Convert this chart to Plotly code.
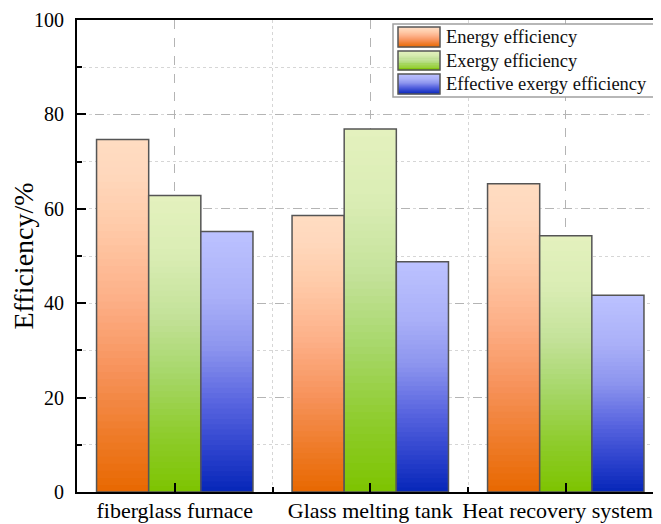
import plotly.graph_objects as go

categories = ["fiberglass furnace", "Glass melting tank", "Heat recovery system"]
series_names = ["Energy efficiency", "Exergy efficiency", "Effective exergy efficiency"]
energy = [74.7, 58.6, 65.3]
exergy = [62.8, 76.9, 54.3]
effective = [55.2, 48.8, 41.7]
y_ticks = [0, 20, 40, 60, 80, 100]

values = [energy, exergy, effective]

# gradient stops (0 = bottom of bar, 1 = top)
gradients = [
    [(0.0, (232, 104, 0)), (0.15, (238, 122, 38)), (0.35, (247, 147, 92)), (0.55, (253, 176, 136)),
     (0.75, (255, 202, 168)), (0.9, (255, 216, 188)), (1.0, (255, 220, 194))],
    [(0.0, (125, 196, 0)), (0.2, (143, 204, 46)), (0.4, (167, 215, 106)), (0.6, (196, 226, 154)),
     (0.8, (218, 237, 180)), (1.0, (228, 241, 190))],
    [(0.0, (6, 38, 184)), (0.15, (42, 64, 204)), (0.35, (90, 102, 224)), (0.55, (140, 148, 238)),
     (0.75, (170, 176, 248)), (1.0, (188, 194, 255))],
]


def grad_color(stops, t):
    for (t0, c0), (t1, c1) in zip(stops[:-1], stops[1:]):
        if t <= t1:
            f = (t - t0) / (t1 - t0) if t1 > t0 else 0
            c = [round(a + (b - a) * f) for a, b in zip(c0, c1)]
            return "rgb(%d,%d,%d)" % tuple(c)
    return "rgb(%d,%d,%d)" % stops[-1][1]


N = 50
bar_w = 0.2667
offsets = [-0.4, -0.4 + bar_w, -0.4 + 2 * bar_w]
xpos = list(range(len(categories)))
# last label is nudged left (as in the original) so it stays inside the frame
tick_text = categories[:-1] + [categories[-1] + "\u00a0\u00a0\u00a0"]

fig = go.Figure()
for s, vals in enumerate(values):
    for k in range(N - 1, -1, -1):
        frac = (k + 1) / N
        fig.add_trace(go.Bar(
            x=xpos, y=[v * frac for v in vals], width=bar_w, offset=offsets[s],
            marker=dict(color=grad_color(gradients[s], (k + 0.5) / N), line=dict(width=0)),
            showlegend=False, hoverinfo="skip"))
    fig.add_trace(go.Bar(
        x=xpos, y=vals, width=bar_w, offset=offsets[s], name=series_names[s],
        marker=dict(color="rgba(0,0,0,0)", line=dict(color="#555555", width=1.5)),
        showlegend=False))

# page body has an 8px margin; target pixel coords are in screen space
OFF = 8
W, H = 661 - OFF, 524 - OFF
L, R, T, B = 77, 661, 20, 492   # plot area in screen pixels
def px(x):
    return (x - L) / (R - L)
def py(y):
    return (B - y) / (B - T)

shapes = [dict(type="rect", xref="paper", yref="paper", x0=px(393), x1=px(655), y0=py(97), y1=py(24),
               line=dict(color="#a0a0a0", width=1.5), fillcolor="white", layer="above")]
annotations = []
rows = [(27, 47), (51, 70), (74, 94)]
STRIPS = 20
for s, (y0, y1) in enumerate(rows):
    h = (y1 - y0) / STRIPS
    for i in range(STRIPS):
        t = 1 - (i + 0.5) / STRIPS
        shapes.append(dict(type="rect", xref="paper", yref="paper", x0=px(398), x1=px(440),
                           y0=py(y0 + (i + 1) * h + 0.3), y1=py(y0 + i * h),
                           line=dict(width=0), fillcolor=grad_color(gradients[s], t), layer="above"))
    shapes.append(dict(type="rect", xref="paper", yref="paper", x0=px(398), x1=px(440),
                       y0=py(y1), y1=py(y0), line=dict(color="#555555", width=1.5), layer="above"))
    annotations.append(dict(xref="paper", yref="paper", x=px(444), y=py((y0 + y1) / 2),
                            text=series_names[s], showarrow=False, xanchor="left", yanchor="middle",
                            font=dict(family="Liberation Serif", size=18.5, color="#111111")))

fig.update_layout(
    width=W, height=H,
    margin=dict(l=L - OFF, r=661 - R, t=T - OFF, b=524 - B, autoexpand=False),
    barmode="overlay",
    plot_bgcolor="white", paper_bgcolor="white",
    font=dict(family="Liberation Serif", color="black"),
    shapes=shapes, annotations=annotations,
    showlegend=False,
)
fig.update_xaxes(
    range=[-0.5, (R - L) / 195.5 - 0.5], tickmode="array", tickvals=xpos, ticktext=tick_text,
    tickfont=dict(size=22, family="Liberation Serif"), ticklabeloverflow="allow",
    ticks="inside", ticklen=9, tickwidth=2, tickcolor="black",
    showline=True, linecolor="black", linewidth=2, mirror=True,
    showgrid=True, gridcolor="#b4b4b4", griddash="dash", gridwidth=1,
    minor=dict(tickmode="array", tickvals=[-0.5, 0.5, 1.5, 2.5], ticks="inside", ticklen=5,
               tickwidth=2, tickcolor="black", showgrid=True, gridcolor="#d6d6d6",
               griddash="dot", gridwidth=1),
    zeroline=False, ticklabelstandoff=-2,
)
fig.update_yaxes(
    range=[0, 100], tickmode="array", tickvals=y_ticks,
    tickfont=dict(size=20, family="Liberation Serif"),
    ticks="inside", ticklen=9, tickwidth=2, tickcolor="black",
    showline=True, linecolor="black", linewidth=2,
    showgrid=True, gridcolor="#b4b4b4", griddash="dash", gridwidth=1,
    minor=dict(dtick=10, ticks="inside", ticklen=5, tickwidth=2, tickcolor="black",
               showgrid=True, gridcolor="#d6d6d6", griddash="dot", gridwidth=1),
    zeroline=False, ticklabelstandoff=7,
    title=dict(text="Efficiency/%", font=dict(size=28, family="Liberation Serif"), standoff=6),
)
fig.write_html("out.html")
